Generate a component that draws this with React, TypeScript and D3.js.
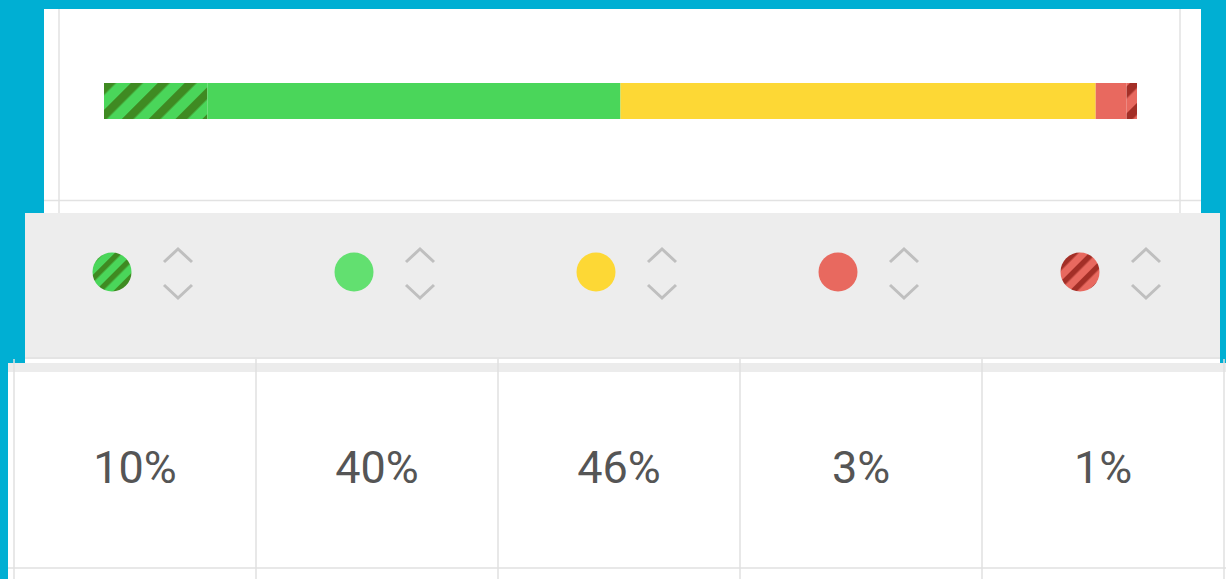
import React from "react";
import * as d3 from "d3";

const categories = ["strongAgree", "agree", "neutral", "disagree", "strongDisagree"];
const values = [10, 40, 46, 3, 1];
const labels = ["10%", "40%", "46%", "3%", "1%"];
const fills = ["url(#hatchGreen)", "#4AD65A", "#FDD835", "#E8695F", "url(#hatchRed)"];
const legendFills = ["url(#hatchGreenS)", "#62E070", "#FDD835", "#E8695F", "url(#hatchRedS)"];

const W = 1226;
const H = 579;

export default function App() {
  const x = d3.scaleLinear().domain([0, 100]).range([104, 1137]);
  const starts = d3.cumsum([0, ...values.slice(0, -1)]);
  const col = d3.scaleBand<string>().domain(categories).range([14, 1224]).padding(0);
  const bw = col.bandwidth();

  return (
    <svg width={W} height={H} style={{ position: "absolute", left: 0, top: 0 }} fontFamily="Roboto">
      <defs>
        <pattern id="hatchGreen" patternUnits="userSpaceOnUse" width={19} height={19} patternTransform="translate(104,83) rotate(45)">
          <rect width={19} height={19} fill="#4AD65A" />
          <rect width={8.5} height={19} fill="#3F8A22" />
        </pattern>
        <pattern id="hatchRed" patternUnits="userSpaceOnUse" width={19} height={19} patternTransform="translate(1130,83) rotate(45)">
          <rect width={19} height={19} fill="#E8695F" />
          <rect width={8.5} height={19} fill="#A32F27" />
        </pattern>
        <pattern id="hatchGreenS" patternUnits="userSpaceOnUse" width={13} height={13} patternTransform="rotate(45)">
          <rect width={13} height={13} fill="#4AD65A" />
          <rect width={5.5} height={13} fill="#3F8A22" />
        </pattern>
        <pattern id="hatchRedS" patternUnits="userSpaceOnUse" width={13} height={13} patternTransform="rotate(45)">
          <rect width={13} height={13} fill="#E8695F" />
          <rect width={5.5} height={13} fill="#A32F27" />
        </pattern>
      </defs>

      <rect width={W} height={H} fill="#00AFD3" />

      {/* top white panel */}
      <rect x={44} y={9} width={1157} height={204} fill="#ffffff" />
      <line x1={59} x2={59} y1={9} y2={213} stroke="#e2e2e2" strokeWidth={1.5} />
      <line x1={1180} x2={1180} y1={9} y2={213} stroke="#e2e2e2" strokeWidth={1.5} />
      <line x1={44} x2={1201} y1={200.5} y2={200.5} stroke="#e2e2e2" strokeWidth={1.5} />

      {/* stacked bar */}
      {values.map((v, i) => (
        <rect
          key={categories[i]}
          x={x(starts[i])}
          y={83}
          width={x(starts[i] + v) - x(starts[i])}
          height={36}
          fill={fills[i]}
        />
      ))}

      {/* legend panel */}
      <rect x={25} y={213} width={1195} height={150} fill="#ffffff" />
      <rect x={25} y={213} width={1195} height={146} fill="#EDEDED" />
      <line x1={25} x2={1220} y1={358} y2={358} stroke="#e0e0e0" strokeWidth={1.5} />

      {categories.map((c, i) => {
        const x0 = col(c)!;
        const cx = x0 + 98;
        const chx = x0 + 164;
        return (
          <g key={c}>
            <circle cx={cx} cy={272} r={19.5} fill={legendFills[i]} />
            <polyline
              points={`${chx - 14},${262} ${chx},${249} ${chx + 14},${262}`}
              fill="none"
              stroke="#bfbfbf"
              strokeWidth={3}
            />
            <polyline
              points={`${chx - 14},${285} ${chx},${298} ${chx + 14},${285}`}
              fill="none"
              stroke="#bfbfbf"
              strokeWidth={3}
            />
          </g>
        );
      })}

      {/* table panel */}
      <rect x={8} y={363} width={W - 8} height={H - 363} fill="#ffffff" />
      <rect x={8} y={363} width={W - 8} height={9} fill="#ECECEC" />
      {[...categories.map((c) => col(c)!), 1224].map((xx, i) => (
        <line key={i} x1={xx} x2={xx} y1={359} y2={H} stroke="#e0e0e0" strokeWidth={1.5} />
      ))}
      <line x1={8} x2={W} y1={568} y2={568} stroke="#e0e0e0" strokeWidth={1.5} />

      {categories.map((c, i) => (
        <text
          key={c}
          x={col(c)! + bw / 2}
          y={483}
          textAnchor="middle"
          fontSize={45}
          fill="#555555"
        >
          {labels[i]}
        </text>
      ))}
    </svg>
  );
}
